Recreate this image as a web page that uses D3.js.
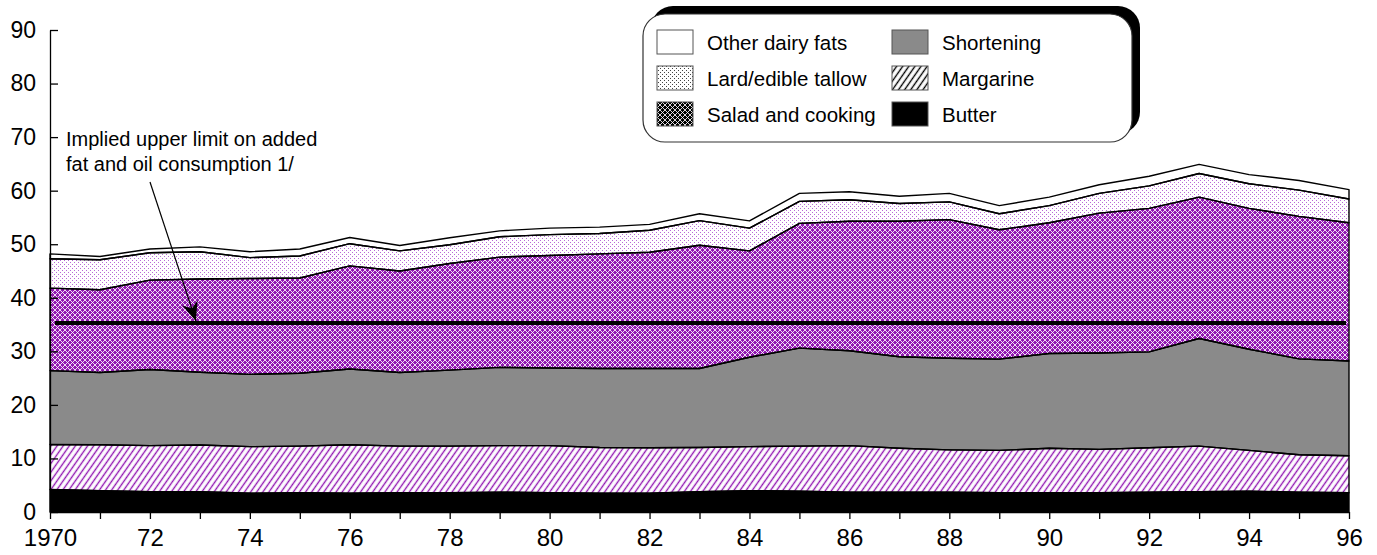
<!DOCTYPE html>
<html>
<head>
<meta charset="utf-8">
<script src="https://cdn.jsdelivr.net/npm/d3@7"></script>
<style>
body { margin: 0; background: #fff; }
svg { display: block; font-family: "Liberation Sans", Arial, sans-serif; }
</style>
</head>
<body>
<div id="chart"></div>
<script>
// data, pounds per capita
var years = [1970, 1971, 1972, 1973, 1974, 1975, 1976, 1977, 1978, 1979, 1980, 1981, 1982,
             1983, 1984, 1985, 1986, 1987, 1988, 1989, 1990, 1991, 1992, 1993, 1994, 1995, 1996];
var butter     = [4.2, 4.0, 3.8, 3.8, 3.5, 3.6, 3.5, 3.6, 3.6, 3.7, 3.6, 3.5, 3.5,
                  3.8, 4.0, 3.9, 3.7, 3.7, 3.7, 3.6, 3.6, 3.6, 3.7, 3.8, 3.9, 3.7, 3.6];
var margarine  = [8.4, 8.55, 8.6, 8.7, 8.7, 8.7, 9.05, 8.7, 8.7, 8.7, 8.8, 8.55, 8.5,
                  8.25, 8.2, 8.4, 8.7, 8.2, 7.9, 7.9, 8.3, 8.1, 8.3, 8.5, 7.6, 7.0, 6.9];
var shortening = [13.8, 13.5, 14.2, 13.6, 13.5, 13.6, 14.15, 13.75, 14.2, 14.6, 14.5, 14.75, 14.8,
                  14.75, 16.7, 18.3, 17.7, 17.1, 17.1, 17.05, 17.7, 18.0, 17.9, 20.1, 18.9, 17.9, 17.7];
var salad      = [15.4, 15.45, 16.7, 17.4, 17.9, 17.8, 19.25, 18.95, 19.9, 20.6, 21.0, 21.4, 21.7,
                  23.0, 19.85, 23.3, 24.2, 25.3, 25.9, 24.15, 24.4, 26.1, 26.8, 26.4, 26.3, 26.6, 25.8];
var lard       = [5.5, 5.6, 5.1, 5.1, 3.9, 4.1, 4.15, 3.75, 3.5, 3.8, 3.9, 3.8, 4.1,
                  4.6, 4.25, 4.1, 4.0, 3.3, 3.3, 3.0, 3.2, 3.7, 4.2, 4.4, 4.6, 4.9, 4.45];
var otherDairy = [0.9, 0.6, 0.7, 0.9, 1.1, 1.3, 1.15, 1.0, 1.3, 1.1, 1.2, 1.2, 1.1,
                  1.3, 1.35, 1.5, 1.5, 1.35, 1.6, 1.5, 1.6, 1.6, 1.8, 1.7, 1.7, 1.8, 1.75];

var upperLimit = 35.3;

var yTicks = [0, 10, 20, 30, 40, 50, 60, 70, 80, 90];
var xLabelYears = [1970, 1972, 1974, 1976, 1978, 1980, 1982, 1984, 1986, 1988, 1990, 1992, 1994, 1996];
var xLabels = ["1970", "72", "74", "76", "78", "80", "82", "84", "86", "88", "90", "92", "94", "96"];

var keys = ["butter", "margarine", "shortening", "salad", "lard", "other"];
var seriesNames = {
	other: "Other dairy fats", shortening: "Shortening", lard: "Lard/edible tallow",
	margarine: "Margarine", salad: "Salad and cooking", butter: "Butter"
};
// legend order, column by column
var legendCols = [["other", "lard", "salad"], ["shortening", "margarine", "butter"]];

var table = years.map(function(yr, i) {
	return {year: yr, butter: butter[i], margarine: margarine[i], shortening: shortening[i],
	        salad: salad[i], lard: lard[i], other: otherDairy[i]};
});

var w = 1377, h = 555;
var purple = "#9218b2";

var svg = d3.select("#chart").append("svg")
	.attr("width", w)
	.attr("height", h);

// patterns
var defs = svg.append("defs");

function weave(id, col) {
	var p = defs.append("pattern").attr("id", id)
		.attr("patternUnits", "userSpaceOnUse")
		.attr("width", 5).attr("height", 5);
	p.append("rect").attr("width", 5).attr("height", 5).attr("fill", col);
	p.append("path")
		.attr("d", "M0,5L5,0M-1,1L1,-1M4,6L6,4M0,0L5,5M-1,4L1,6M4,-1L6,1")
		.attr("stroke", "#fff").attr("stroke-width", 0.85);
}
function dots(id, col) {
	var p = defs.append("pattern").attr("id", id)
		.attr("patternUnits", "userSpaceOnUse")
		.attr("width", 4).attr("height", 4);
	p.append("rect").attr("width", 4).attr("height", 4).attr("fill", "#fff");
	p.append("rect").attr("x", 0).attr("y", 0).attr("width", 1).attr("height", 1).attr("fill", col);
	p.append("rect").attr("x", 2).attr("y", 2).attr("width", 1).attr("height", 1).attr("fill", col);
}
function hatch(id, col) {
	var p = defs.append("pattern").attr("id", id)
		.attr("patternUnits", "userSpaceOnUse")
		.attr("width", 5).attr("height", 5)
		.attr("patternTransform", "rotate(35)");
	p.append("rect").attr("width", 5).attr("height", 5).attr("fill", "#fff");
	p.append("line").attr("x1", 2.5).attr("x2", 2.5).attr("y1", -1).attr("y2", 6)
		.attr("stroke", col).attr("stroke-width", 1.4);
}
weave("weaveP", purple); weave("weaveK", "#000");
dots("dotsP", "#b86ad6"); dots("dotsK", "#444");
hatch("hatchP", purple); hatch("hatchK", "#000");

var chartFill = {butter: "#000", margarine: "url(#hatchP)", shortening: "#8a8a8a",
                 salad: "url(#weaveP)", lard: "url(#dotsP)", other: "#fff"};
var legendFill = {butter: "#000", margarine: "url(#hatchK)", shortening: "#8a8a8a",
                  salad: "url(#weaveK)", lard: "url(#dotsK)", other: "#fff"};

var xScale = d3.scaleLinear().domain([1970, 1996]).range([50, 1349]);
var yScale = d3.scaleLinear().domain([0, 90]).range([512, 30]);

var stacked = d3.stack().keys(keys)(table);

var area = d3.area()
	.x(function(d) { return xScale(d.data.year); })
	.y0(function(d) { return yScale(d[0]); })
	.y1(function(d) { return yScale(d[1]); });

svg.append("g").selectAll("path")
	.data(stacked)
	.enter()
	.append("path")
	.attr("d", area)
	.attr("fill", function(d) { return chartFill[d.key]; });

// outlines on top
svg.append("g").selectAll("path")
	.data(stacked)
	.enter()
	.append("path")
	.attr("d", area)
	.attr("fill", "none")
	.attr("stroke", "#000")
	.attr("stroke-width", 1.4)
	.attr("stroke-linejoin", "round");

// upper limit line
svg.append("line")
	.attr("x1", xScale(1970) + 5)
	.attr("x2", xScale(1996) - 3)
	.attr("y1", yScale(upperLimit))
	.attr("y2", yScale(upperLimit))
	.attr("stroke", "#000")
	.attr("stroke-width", 4);

// axes
var yAxis = d3.axisLeft(yScale)
	.tickValues(yTicks)
	.tickSize(-8)
	.tickSizeOuter(0)
	.tickPadding(14);

var yG = svg.append("g")
	.attr("transform", "translate(" + xScale(1970) + ",0)")
	.call(yAxis);
yG.selectAll("text").attr("font-size", "23px").attr("font-family", null).attr("fill", "#000");
yG.selectAll("line, path").attr("stroke", "#000").attr("stroke-width", 1.3);

var xAxis = d3.axisBottom(xScale)
	.tickValues(years)
	.tickSize(7)
	.tickSizeOuter(0)
	.tickPadding(10)
	.tickFormat(function(d) {
		var k = xLabelYears.indexOf(d);
		return k < 0 ? "" : xLabels[k];
	});

var xG = svg.append("g")
	.attr("transform", "translate(0," + yScale(0) + ")")
	.call(xAxis);
xG.selectAll("text").attr("font-size", "24px").attr("font-family", null).attr("fill", "#000");
xG.selectAll("line, path").attr("stroke", "#000").attr("stroke-width", 1.3);

// annotation
var note = svg.append("text")
	.attr("x", 66)
	.attr("y", 146)
	.attr("font-size", "20px")
	.attr("fill", "#000");
note.append("tspan").attr("x", 66).text("Implied upper limit on added");
note.append("tspan").attr("x", 66).attr("dy", 25).text("fat and oil consumption 1/");

var tipX = xScale(1972.92), tipY = yScale(upperLimit) - 2;
svg.append("line")
	.attr("x1", 150).attr("y1", 182)
	.attr("x2", tipX).attr("y2", tipY)
	.attr("stroke", "#000")
	.attr("stroke-width", 1.2);

var ang = Math.atan2(tipY - 182, tipX - 150) * 180 / Math.PI;
svg.append("path")
	.attr("d", "M0,0L-19,-8L-13,0L-19,8Z")
	.attr("transform", "translate(" + tipX + "," + tipY + ") rotate(" + ang + ")")
	.attr("fill", "#000");

// legend
var lg = svg.append("g");
lg.append("rect")
	.attr("x", 651).attr("y", 6)
	.attr("width", 489).attr("height", 128)
	.attr("rx", 22).attr("ry", 22)
	.attr("fill", "#000");
lg.append("rect")
	.attr("x", 643).attr("y", 14)
	.attr("width", 489).attr("height", 128)
	.attr("rx", 22).attr("ry", 22)
	.attr("fill", "#fff")
	.attr("stroke", "#333")
	.attr("stroke-width", 1.2);

var colX = [657, 892];
legendCols.forEach(function(col, ci) {
	col.forEach(function(k, ri) {
		var top = 30 + ri * 36;
		lg.append("rect")
			.attr("x", colX[ci]).attr("y", top)
			.attr("width", 36).attr("height", 24)
			.attr("fill", legendFill[k])
			.attr("stroke", "#555")
			.attr("stroke-width", 1);
		lg.append("text")
			.attr("x", colX[ci] + 50)
			.attr("y", top + 20)
			.attr("font-size", "20.5px")
			.attr("fill", "#000")
			.text(seriesNames[k]);
	});
});
</script>
</body>
</html>
